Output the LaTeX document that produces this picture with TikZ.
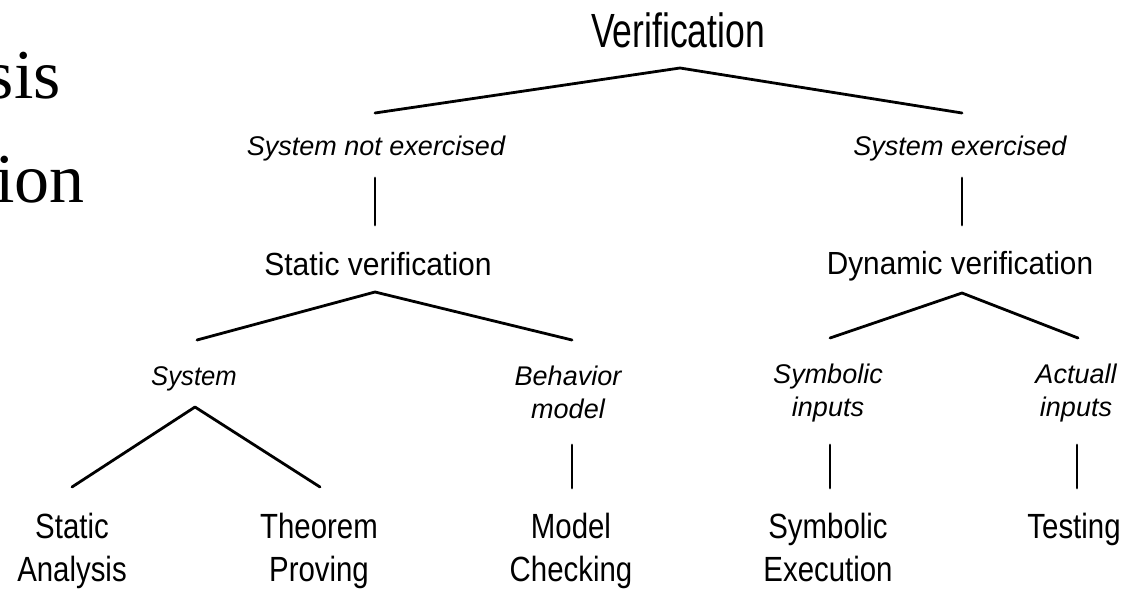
\documentclass[tikz,border=0pt]{standalone}
\usepackage{fontspec}
\setmainfont{Liberation Sans}
\newfontfamily\serifA{Liberation Serif}
\usepackage{graphicx}
\newcommand{\hsc}[2]{\scalebox{#1}[1]{#2}}
\newcommand{\twol}[2]{\begin{tabular}[t]{@{}c@{}}#1\\#2\end{tabular}}
\begin{document}
\begin{tikzpicture}[x=1pt,y=-1pt,
  lab/.style={anchor=base, inner sep=0pt, text=black},
  topf/.style={lab, font=\fontsize{48}{56}\selectfont},
  itl/.style={lab, font=\fontsize{27}{33}\selectfont\itshape},
  midf/.style={lab, font=\fontsize{32}{38}\selectfont},
  botf/.style={lab, font=\fontsize{35}{43}\selectfont},
  frag/.style={inner sep=0pt, font=\serifA\fontsize{70}{80}\selectfont},
  conn/.style={draw=black, line width=2.8pt, line cap=round, line join=round}]
\useasboundingbox (0,0) rectangle (1137,589);
\fill[white] (0,0) rectangle (1137,589);

% cropped slide text at left edge
\node[frag, anchor=base east] (fragA) at (61,98) {sis};
\node[frag, anchor=base west] (fragB) at (-5,202) {ion};

% labels
\node[topf] (ver) at (678,47) {\hsc{0.74}{Verification}};
\node[itl] (sne) at (376,155) {System not exercised};
\node[itl] (sex) at (960,155) {System exercised};
\node[midf] (sv) at (378,275) {\hsc{0.94}{Static verification}};
\node[midf] (dv) at (960,274) {\hsc{0.93}{Dynamic verification}};
\node[itl] (sys) at (194,385) {\hsc{0.95}{System}};
\node[itl] (bm) at (568,385) {\twol{Behavior}{model}};
\node[itl] (si) at (828,383) {\twol{Symbolic}{inputs}};
\node[itl] (ai) at (1076,383) {\twol{Actuall}{inputs}};
\node[botf] (sa) at (72,538) {\hsc{0.84}{\twol{Static}{Analysis}}};
\node[botf] (tp) at (319,538) {\hsc{0.84}{\twol{Theorem}{Proving}}};
\node[botf] (mc) at (571,538) {\hsc{0.84}{\twol{Model}{Checking}}};
\node[botf] (sx) at (828,538) {\hsc{0.84}{\twol{Symbolic}{Execution}}};
\node[botf] (te) at (1074,538) {\hsc{0.84}{Testing}};

% connector points
\coordinate (vA) at (680,68);
\coordinate (vL) at (375,113);
\coordinate (vR) at (962,113);
\coordinate (nT) at (375,178);
\coordinate (nB) at (375,225);
\coordinate (eT) at (962,178);
\coordinate (eB) at (962,225);
\coordinate (sA) at (375,292);
\coordinate (sL) at (197,340);
\coordinate (sR) at (572,340);
\coordinate (dA) at (962,293);
\coordinate (dL) at (830,338);
\coordinate (dR) at (1078,338);
\coordinate (yA) at (195,407);
\coordinate (yL) at (72,487);
\coordinate (yR) at (320,487);
\coordinate (bT) at (572,445);
\coordinate (bB) at (572,488);
\coordinate (iT) at (830,445);
\coordinate (iB) at (830,488);
\coordinate (aT) at (1077,445);
\coordinate (aB) at (1077,488);

\draw[conn] (vL) -- (vA) -- (vR);
\draw[conn] (nT) -- (nB);
\draw[conn] (eT) -- (eB);
\draw[conn] (sL) -- (sA) -- (sR);
\draw[conn] (dL) -- (dA) -- (dR);
\draw[conn] (yL) -- (yA) -- (yR);
\draw[conn] (bT) -- (bB);
\draw[conn] (iT) -- (iB);
\draw[conn] (aT) -- (aB);
\end{tikzpicture}
\end{document}
